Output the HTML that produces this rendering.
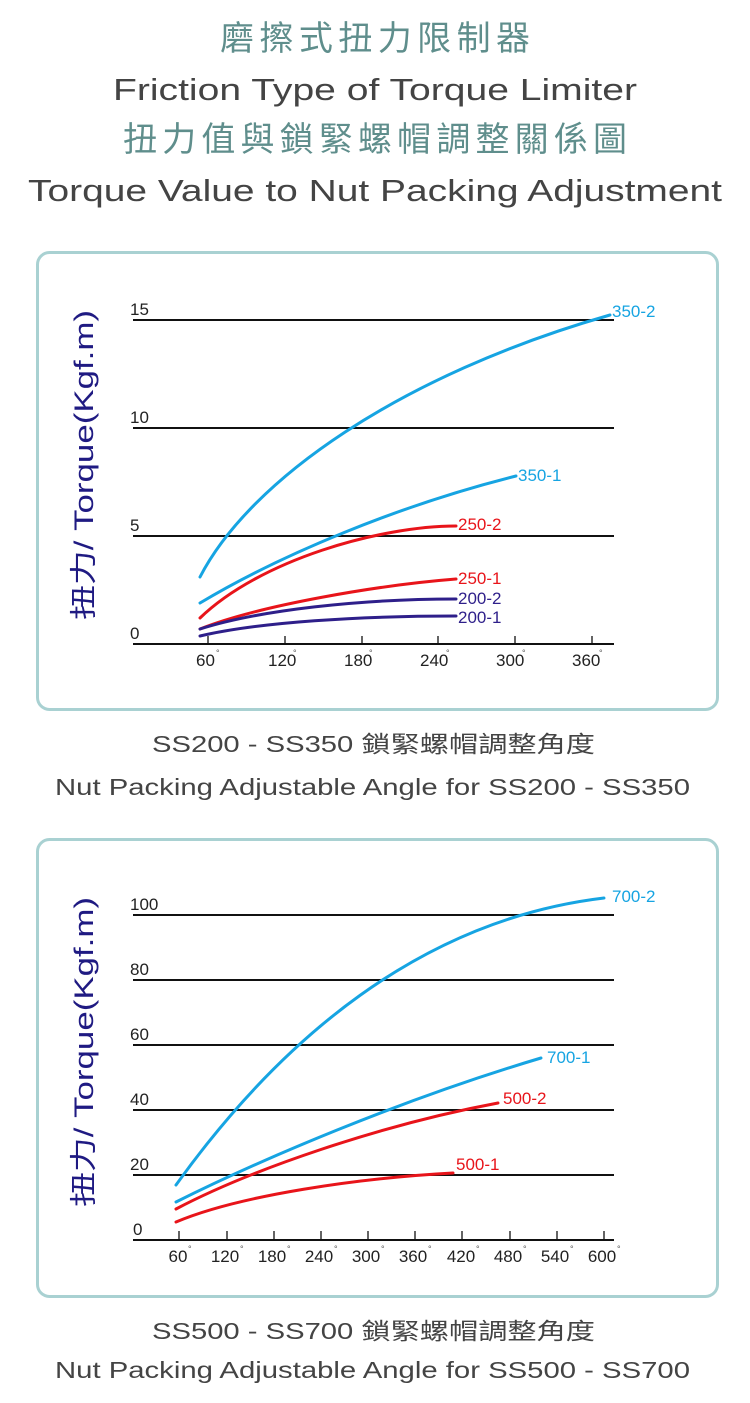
<!DOCTYPE html>
<html><head><meta charset="utf-8"><style>
body{margin:0;background:#fff;}
svg{display:block;}
</style></head><body>
<svg width="750" height="1403" viewBox="0 0 750 1403" xmlns="http://www.w3.org/2000/svg" font-family="Liberation Sans, Noto Sans CJK TC, sans-serif">
<g>
<text x="220" y="50" font-size="34" fill="#5f8e8c" font-family="Noto Sans CJK TC, sans-serif" textLength="310" lengthAdjust="spacing">磨擦式扭力限制器</text>
<text x="113" y="100" font-size="31" fill="#444" textLength="524" lengthAdjust="spacingAndGlyphs">Friction Type of Torque Limiter</text>
<text x="123" y="151" font-size="34" fill="#5f8e8c" font-family="Noto Sans CJK TC, sans-serif" textLength="504" lengthAdjust="spacing">扭力值與鎖緊螺帽調整關係圖</text>
<text x="28" y="201" font-size="31" fill="#444" textLength="694" lengthAdjust="spacingAndGlyphs">Torque Value to Nut Packing Adjustment</text>
<text x="152" y="752" font-size="23" fill="#444" textLength="443" lengthAdjust="spacingAndGlyphs">SS200 - SS350 鎖緊螺帽調整角度</text>
<text x="55" y="795" font-size="23" fill="#444" textLength="635" lengthAdjust="spacingAndGlyphs">Nut Packing Adjustable Angle for SS200 - SS350</text>
<text x="152" y="1339" font-size="23" fill="#444" textLength="443" lengthAdjust="spacingAndGlyphs">SS500 - SS700 鎖緊螺帽調整角度</text>
<text x="55" y="1378" font-size="23" fill="#444" textLength="635" lengthAdjust="spacingAndGlyphs">Nut Packing Adjustable Angle for SS500 - SS700</text>
</g>
<rect x="37.5" y="252.5" width="680" height="457" rx="12" fill="none" stroke="#a9d1d2" stroke-width="3"/>
<rect x="37.5" y="839.5" width="680" height="457" rx="12" fill="none" stroke="#a9d1d2" stroke-width="3"/>

<!-- Chart 1 -->
<text transform="translate(93,620) rotate(-90)" font-size="27" fill="#1f1a82" textLength="310" lengthAdjust="spacingAndGlyphs">扭力/ Torque(Kgf.m)</text>
<g stroke="#111" stroke-width="2">
<line x1="133" y1="320" x2="614" y2="320"/><line x1="133" y1="428" x2="614" y2="428"/>
<line x1="133" y1="536" x2="614" y2="536"/><line x1="133" y1="644" x2="614" y2="644"/>
</g>
<g stroke="#111" stroke-width="1.3">
<line x1="208" y1="644" x2="208" y2="636"/><line x1="285" y1="644" x2="285" y2="636"/><line x1="362" y1="644" x2="362" y2="636"/>
<line x1="438" y1="644" x2="438" y2="636"/><line x1="515" y1="644" x2="515" y2="636"/><line x1="592" y1="644" x2="592" y2="636"/>
</g>
<g font-size="17" fill="#222">
<text x="130" y="315">15</text><text x="130" y="423">10</text><text x="130" y="531">5</text><text x="130" y="639">0</text>
<text x="196" y="666">60</text><text x="268" y="666">120</text><text x="344" y="666">180</text><text x="420" y="666">240</text><text x="496" y="666">300</text><text x="572" y="666">360</text>
</g>
<g font-size="9" fill="#555"><text x="216" y="656">°</text><text x="293" y="656">°</text><text x="369" y="656">°</text><text x="446" y="656">°</text><text x="522" y="656">°</text><text x="599" y="656">°</text></g>
<g fill="none" stroke-width="3" stroke-linecap="round">
<path d="M200,577 C250,480 400,375 610,315" stroke="#16a4e2"/>
<path d="M200,603 C280,555 400,505 516,476" stroke="#16a4e2"/>
<path d="M200,618 C260,560 380,526 456,526" stroke="#e8141a"/>
<path d="M200,629 C260,605 380,585 456,579" stroke="#e8141a"/>
<path d="M200,629 C260,610 360,599 456,599" stroke="#2e1f8a"/>
<path d="M200,636 C260,622 360,616 456,616" stroke="#2e1f8a"/>
</g>
<g font-size="17">
<text x="612" y="317" fill="#16a4e2">350-2</text>
<text x="518" y="481" fill="#16a4e2">350-1</text>
<text x="458" y="530" fill="#e8141a">250-2</text>
<text x="458" y="584" fill="#e8141a">250-1</text>
<text x="458" y="604" fill="#2e1f8a">200-2</text>
<text x="458" y="623" fill="#2e1f8a">200-1</text>
</g>

<!-- Chart 2 -->
<text transform="translate(93,1207) rotate(-90)" font-size="27" fill="#1f1a82" textLength="310" lengthAdjust="spacingAndGlyphs">扭力/ Torque(Kgf.m)</text>
<g stroke="#111" stroke-width="2">
<line x1="133" y1="915" x2="614" y2="915"/><line x1="133" y1="980" x2="614" y2="980"/><line x1="133" y1="1045" x2="614" y2="1045"/>
<line x1="133" y1="1110" x2="614" y2="1110"/><line x1="133" y1="1175" x2="614" y2="1175"/><line x1="133" y1="1240" x2="614" y2="1240"/>
</g>
<g stroke="#111" stroke-width="1.3">
<line x1="179" y1="1240" x2="179" y2="1231"/><line x1="227" y1="1240" x2="227" y2="1231"/><line x1="274" y1="1240" x2="274" y2="1231"/>
<line x1="321" y1="1240" x2="321" y2="1231"/><line x1="368" y1="1240" x2="368" y2="1231"/><line x1="415" y1="1240" x2="415" y2="1231"/>
<line x1="462" y1="1240" x2="462" y2="1231"/><line x1="510" y1="1240" x2="510" y2="1231"/><line x1="557" y1="1240" x2="557" y2="1231"/><line x1="604" y1="1240" x2="604" y2="1231"/>
</g>
<g font-size="17" fill="#222">
<text x="130" y="910">100</text><text x="130" y="975">80</text><text x="130" y="1040">60</text><text x="130" y="1105">40</text><text x="130" y="1170">20</text><text x="133" y="1235">0</text>
</g>
<g font-size="17" fill="#222" text-anchor="middle">
<text x="178" y="1262">60</text><text x="225" y="1262">120</text><text x="272" y="1262">180</text><text x="319" y="1262">240</text><text x="366" y="1262">300</text>
<text x="413" y="1262">360</text><text x="461" y="1262">420</text><text x="508" y="1262">480</text><text x="555" y="1262">540</text><text x="602" y="1262">600</text>
</g>
<g font-size="9" fill="#555"><text x="188" y="1252">°</text><text x="240" y="1252">°</text><text x="287" y="1252">°</text><text x="334" y="1252">°</text><text x="381" y="1252">°</text><text x="428" y="1252">°</text><text x="476" y="1252">°</text><text x="523" y="1252">°</text><text x="570" y="1252">°</text><text x="617" y="1252">°</text></g>
<g fill="none" stroke-width="3" stroke-linecap="round">
<path d="M176,1185 C280,1040 420,920 604,898" stroke="#16a4e2"/>
<path d="M176,1202 C260,1160 400,1100 541,1058" stroke="#16a4e2"/>
<path d="M176,1209 C250,1170 380,1125 498,1103" stroke="#e8141a"/>
<path d="M176,1222 C240,1195 360,1178 453,1173" stroke="#e8141a"/>
</g>
<g font-size="17">
<text x="612" y="902" fill="#16a4e2">700-2</text>
<text x="547" y="1063" fill="#16a4e2">700-1</text>
<text x="503" y="1104" fill="#e8141a">500-2</text>
<text x="456" y="1170" fill="#e8141a">500-1</text>
</g>
</svg>
</body></html>
